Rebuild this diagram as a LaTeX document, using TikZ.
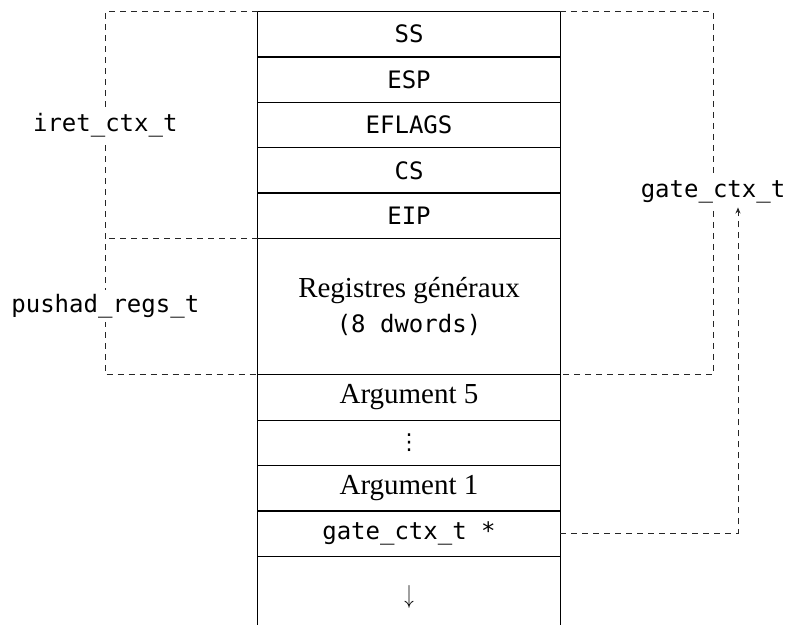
\documentclass[tikz,border=0pt]{standalone}
\usepackage{graphicx}
\usepackage{fontspec}
\setmainfont{Liberation Serif}
\setmonofont{DejaVu Sans Mono}
\newfontfamily\djsans{DejaVu Sans}
\usetikzlibrary{arrows.meta}
\begin{document}
\begin{tikzpicture}[x=1pt,y=-1pt,
  cell/.style={draw, line width=1.3pt, minimum width=302.5pt, minimum height=45.4pt, inner sep=0pt, outer sep=0pt, anchor=north, font=\fontsize{29}{35}\selectfont},
  mono/.style={font=\ttfamily\fontsize{24}{35}\selectfont},
  dsh/.style={dash pattern=on 6pt off 5pt, line width=1pt, black!85},
  lbl/.style={fill=white, inner sep=4pt, font=\ttfamily\fontsize{24}{30}\selectfont}]
\useasboundingbox (0,0) rectangle (787,624);
\clip (0,0) rectangle (787,624);
\coordinate (L) at (105.3,0);
\coordinate (R) at (713,0);
\coordinate (A) at (738,0);
\node[cell,mono] (ss) at (409,11.5) {SS};
\node[cell,mono] (esp) at (ss.south) {ESP};
\node[cell,mono] (efl) at (esp.south) {EFLAGS};
\node[cell,mono] (cs) at (efl.south) {CS};
\node[cell,mono] (eip) at (cs.south) {EIP};
\node[cell,minimum height=136.3pt,align=center] (regs) at (eip.south) {Registres généraux\\{\ttfamily\fontsize{24}{35}\selectfont(8 dwords)}};
\node[cell] (a5) at (regs.south) {Argument 5};
\node[cell,font=\djsans\fontsize{22}{30}\selectfont] (dots) at (a5.south) {⋮};
\node[cell] (a1) at (dots.south) {Argument 1};
\node[cell,mono] (gp) at (a1.south) {gate\_ctx\_t *};
\node[cell,minimum height=100pt] (bot) at (gp.south) {};
\node (arr) at (409,597) {\scalebox{1.9}[2.6]{$\downarrow$}};
% dashed brackets
\draw[dsh] (ss.north west) -- (L |- ss.north) -- (L |- regs.south) -- (regs.south west);
\draw[dsh] (regs.north west) -- (L |- regs.north);
\draw[dsh] (ss.north east) -- (R |- ss.north) -- (R |- regs.south) -- (regs.south east);
% labels
\node[lbl] (iret) at (105.3,125) {iret\_ctx\_t};
\node[lbl] (push) at (105.3,306) {pushad\_regs\_t};
\node[lbl] (gate) at (713,192) {gate\_ctx\_t};
\draw[dsh,-{Stealth[length=6pt,width=5pt]}] (gp.east) -- (A |- gp.east) -- (A |- gate.south);
\end{tikzpicture}
\end{document}
